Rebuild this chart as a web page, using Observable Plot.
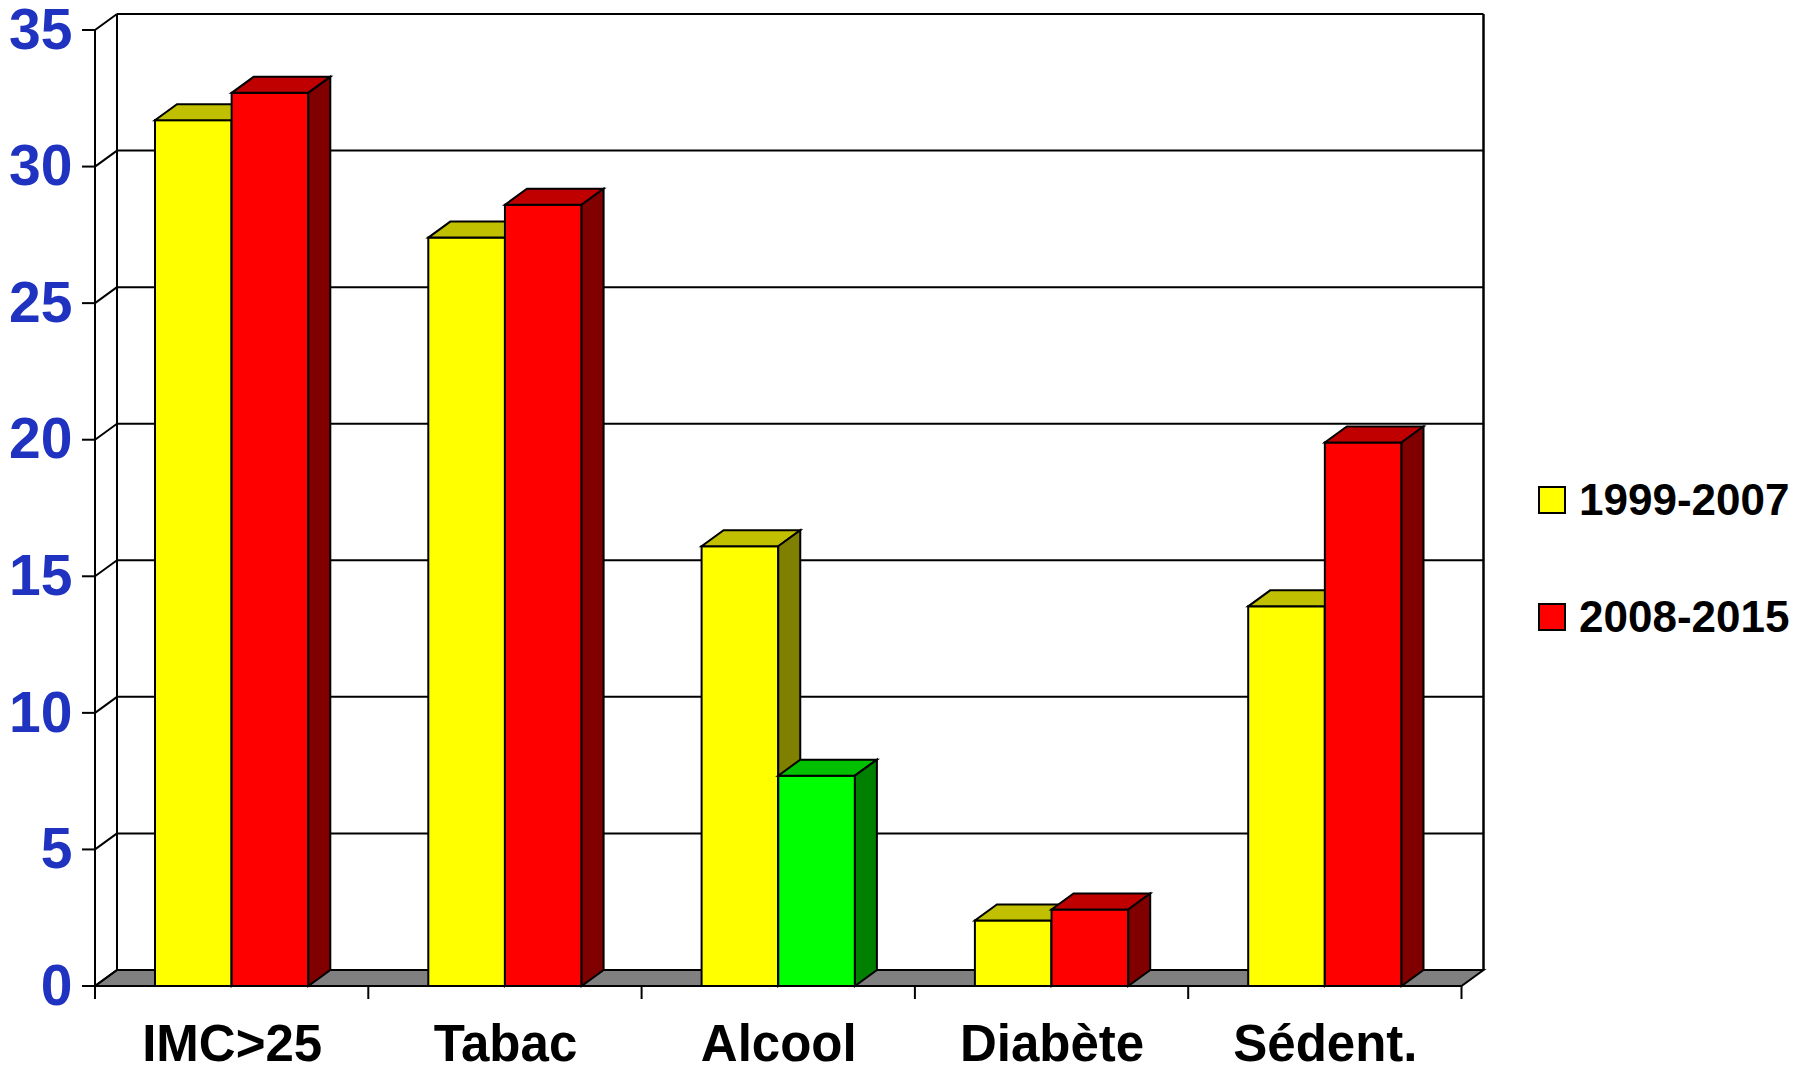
<!DOCTYPE html>
<html><head><meta charset="utf-8">
<script src="https://cdn.jsdelivr.net/npm/d3@7"></script>
<script src="https://cdn.jsdelivr.net/npm/@observablehq/plot@0.6"></script>
<style>
html,body{margin:0;padding:0;background:#fff;}
#wrap{position:relative;width:1796px;height:1066px;overflow:hidden;}
#wrap svg{position:absolute;left:0;top:0;}
.leg{position:absolute;left:1538px;display:flex;align-items:center;height:52px;font-family:"Liberation Sans",Arial,sans-serif;font-weight:bold;font-size:44px;color:#000;white-space:nowrap;}
.sw{width:28px;height:28px;box-sizing:border-box;border:2px solid #000;margin-right:13px;flex:none;}
</style></head><body><div id="wrap"></div>
<script>
// ---- data ----
const categories = ["IMC>25", "Tabac", "Alcool", "Diabète", "Sédent."];
const series = ["1999-2007", "2008-2015"];
const values1999 = [31.7, 27.4, 16.1, 2.4, 13.9];
const values2008 = [32.7, 28.6, 7.7, 2.8, 19.9];
const yTicks = [0, 5, 10, 15, 20, 25, 30, 35];
const highlighted = ["Alcool"]; // 2008-2015 bar drawn in green

// ---- styling ----
const W = 1796, H = 1066;
const mL = 95, mR = 334.5, mT = 30, mB = 80;
const dX = 22, dY = -16;
const band = (W - mL - mR) / categories.length;
const padOuter = 60;
const barW = (band - 2 * padOuter) / 2;
const font = "'Liberation Sans', Arial, Helvetica, sans-serif";
const shades = {
  "1999-2007": ["#ffff00", "#c0c000", "#808000"],
  "2008-2015": ["#ff0000", "#c00000", "#800000"],
  highlight: ["#00ff00", "#00c000", "#008000"]
};
const shadeOf = d => (d.series === series[1] && highlighted.includes(d.category)) ? shades.highlight : shades[d.series];

const data1 = categories.map((c, i) => ({category: c, value: values1999[i], series: series[0]}));
const data2 = categories.map((c, i) => ({category: c, value: values2008[i], series: series[1]}));

function bw(sx) { return typeof sx.bandwidth === "function" ? sx.bandwidth() : sx.bandwidth; }

function frameMark(index, scales, values, dims) {
  const y = scales.y, x = scales.x;
  const x0 = dims.marginLeft, x1 = dims.width - dims.marginRight;
  const y0 = y(0), yMax = y(yTicks[yTicks.length - 1]);
  const g = d3.create("svg:g").attr("fill", "none").attr("stroke", "#000").attr("stroke-width", 2);
  g.append("path")
    .attr("d", `M${x0},${y0}L${x1},${y0}L${x1 + dX},${y0 + dY}L${x0 + dX},${y0 + dY}Z`)
    .attr("fill", "#808080");
  for (const t of yTicks) {
    g.append("line").attr("x1", x0 + dX).attr("x2", x1 + dX).attr("y1", y(t) + dY).attr("y2", y(t) + dY);
    g.append("line").attr("x1", x0).attr("x2", x0 + dX).attr("y1", y(t)).attr("y2", y(t) + dY);
    g.append("line").attr("x1", x0 - 13).attr("x2", x0).attr("y1", y(t)).attr("y2", y(t));
  }
  g.append("line").attr("x1", x0 + dX).attr("x2", x0 + dX).attr("y1", y0 + dY).attr("y2", yMax + dY);
  g.append("line").attr("x1", x1 + dX).attr("x2", x1 + dX).attr("y1", y0 + dY).attr("y2", yMax + dY).attr("stroke-width", 2.5);
  g.append("line").attr("x1", x0).attr("x2", x0).attr("y1", y0).attr("y2", yMax);
  const tickXs = categories.map(c => x(c)).concat([x(categories[categories.length - 1]) + bw(x)]);
  for (const tx of tickXs) {
    g.append("line").attr("x1", tx).attr("x2", tx).attr("y1", y0).attr("y2", y0 + 13);
  }
  return g.node();
}

function facesMark(data, offset) {
  return (index, scales, values, dims) => {
    const y = scales.y, x = scales.x;
    const y0 = y(0);
    const g = d3.create("svg:g").attr("stroke", "#000").attr("stroke-width", 2).attr("stroke-linejoin", "miter");
    for (const d of data) {
      const xl = x(d.category) + offset, xr = xl + barW, yt = y(d.value);
      const sh = shadeOf(d);
      g.append("path").attr("fill", sh[1])
        .attr("d", `M${xl},${yt}L${xr},${yt}L${xr + dX},${yt + dY}L${xl + dX},${yt + dY}Z`);
      g.append("path").attr("fill", sh[2])
        .attr("d", `M${xr},${yt}L${xr + dX},${yt + dY}L${xr + dX},${y0 + dY}L${xr},${y0}Z`);
    }
    return g.node();
  };
}

const plot = Plot.plot({
  width: W, height: H,
  marginLeft: mL, marginRight: mR, marginTop: mT, marginBottom: mB,
  style: {background: "#fff", overflow: "visible"},
  x: {domain: categories, padding: 0, round: false, axis: null},
  y: {domain: [0, 35], axis: null},
  color: {type: "identity"},
  marks: [
    frameMark,
    Plot.barY(data1, {x: "category", y: "value", fill: d => shadeOf(d)[0], stroke: "#000", strokeWidth: 2,
      insetLeft: padOuter, insetRight: band - padOuter - barW}),
    facesMark(data1, padOuter),
    Plot.barY(data2, {x: "category", y: "value", fill: d => shadeOf(d)[0], stroke: "#000", strokeWidth: 2,
      insetLeft: padOuter + barW, insetRight: padOuter}),
    facesMark(data2, padOuter + barW),
    Plot.text(yTicks, {y: d => d, text: d => String(d), frameAnchor: "left", dx: -23, textAnchor: "end",
      lineAnchor: "middle", fontSize: 57, fontWeight: "bold", fill: "#1f32c0", fontFamily: font}),
    Plot.text(categories, {x: d => d, text: d => d, frameAnchor: "bottom", dy: 58, lineAnchor: "middle",
      fontSize: 51, fontWeight: "bold", fill: "#000", fontFamily: font})
  ]
});

const wrap = document.getElementById("wrap");
wrap.appendChild(plot);

const legendTops = [474, 591];
series.forEach((s, i) => {
  const row = document.createElement("div");
  row.className = "leg";
  row.style.top = legendTops[i] + "px";
  const sw = document.createElement("div");
  sw.className = "sw";
  sw.style.background = shades[s][0];
  const tx = document.createElement("span");
  tx.textContent = s;
  row.appendChild(sw);
  row.appendChild(tx);
  wrap.appendChild(row);
});
</script></body></html>
